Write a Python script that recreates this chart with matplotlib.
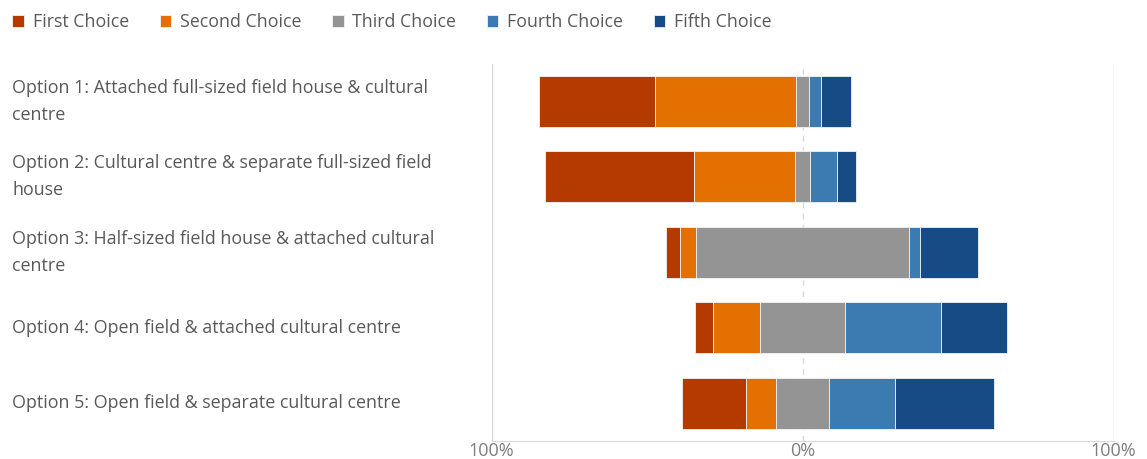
import numpy as np
import matplotlib
matplotlib.use('Agg')
import matplotlib.pyplot as plt
import matplotlib.transforms as mtransforms

plt.rcParams['font.family'] = ['Open Sans', 'DejaVu Sans']

options = ['Option 1: Attached full-sized field house & cultural\ncentre',
           'Option 2: Cultural centre & separate full-sized field\nhouse',
           'Option 3: Half-sized field house & attached cultural\ncentre',
           'Option 4: Open field & attached cultural centre',
           'Option 5: Open field & separate cultural centre']
choices = ['First Choice', 'Second Choice', 'Third Choice', 'Fourth Choice', 'Fifth Choice']
colors = ['#b43a00', '#e37000', '#949494', '#3c7bb1', '#174b85']

# percent of respondents per option
first = [37.3, 47.8, 4.6, 5.9, 20.8]
second = [45.4, 32.4, 4.9, 15.1, 9.5]
third = [4.1, 5.1, 68.7, 27.4, 17.2]
fourth = [4.0, 8.5, 3.5, 30.8, 21.3]
fifth = [9.7, 6.1, 18.6, 21.1, 31.7]

data = np.array([first, second, third, fourth, fifth])
# diverging: third choice is centred on zero
start = -(data[0] + data[1] + data[2] / 2)

fig = plt.figure(figsize=(11.47, 4.59), dpi=100)
ax = fig.add_axes([491.5 / 1147, 1 - 441 / 459, (1113.5 - 491.5) / 1147, (441 - 63.5) / 459])

y = np.arange(len(options))
left = start.copy()
for i, name in enumerate(choices):
    ax.barh(y, data[i], left=left, height=0.67, color=colors[i],
            edgecolor='#f2f2f2', linewidth=0.6, label=name, zorder=3)
    left = left + data[i]

ax.set_xlim(-100, 100)
ax.set_ylim(len(options) - 0.5, -0.5)
ax.set_xticks([-100, 0, 100])
ax.set_xticklabels(['100%', '0%', '100%'], color='#7f7f7f', fontsize=13)
ax.tick_params(axis='x', length=0, pad=1)
ax.set_yticks([])
for s in ['top', 'left', 'right']:
    ax.spines[s].set_visible(False)
ax.spines['bottom'].set_color('#d9d9d9')
ax.axvline(-100, color='#d9d9d9', lw=1, zorder=1)
ax.axvline(100, color='#d9d9d9', lw=1, zorder=1)
ax.axvline(0, color='#d9d9d9', lw=1, ls=(0, (4, 4)), zorder=1)

trans = mtransforms.blended_transform_factory(fig.transFigure, ax.transData)
for yi, lab in zip(y, options):
    fig.text(12 / 1147, yi, lab, transform=trans, ha='left', va='center',
             fontsize=12.9, color='#595959', linespacing=1.65)

fig.legend(loc='upper left', bbox_to_anchor=(0.0, 0.998), ncol=5, frameon=False,
           handlelength=0.65, handleheight=0.65, handletextpad=0.5, columnspacing=1.72,
           fontsize=12.8, labelcolor='#595959', borderaxespad=0.3)

fig.savefig('out.png', dpi=100)
